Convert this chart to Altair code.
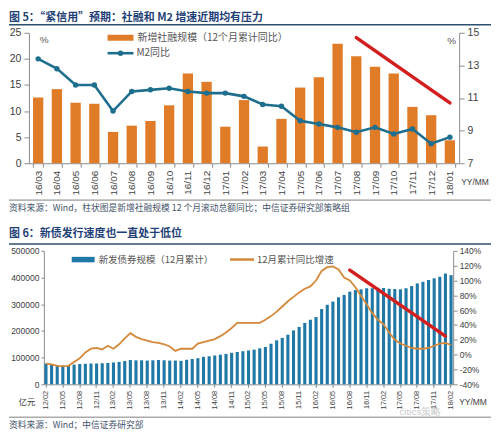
import altair as alt
import pandas as pd

# ---------------- Figure 5 data ----------------
months5 = ["16/03", "16/04", "16/05", "16/06", "16/07", "16/08", "16/09", "16/10",
           "16/11", "16/12", "17/01", "17/02", "17/03", "17/04", "17/05", "17/06",
           "17/07", "17/08", "17/09", "17/10", "17/11", "17/12", "18/01"]
tsf_growth = [12.6, 14.2, 11.6, 11.4, 6.0, 7.2, 8.1, 11.1, 17.2, 15.6, 7.0, 12.1,
              3.2, 8.5, 14.5, 16.5, 22.9, 20.5, 18.5, 17.2, 10.8, 9.2, 4.4]
m2_growth = [13.4, 12.8, 11.8, 11.8, 10.2, 11.4, 11.5, 11.6, 11.4, 11.3, 11.3, 11.1,
             10.6, 10.5, 9.6, 9.4, 9.2, 8.9, 9.2, 8.8, 9.1, 8.2, 8.6]
trend5_months = ["17/08", "18/01"]
trend5_values = [14.7, 10.7]

# ---------------- Figure 6 data ----------------
months6 = [f"{y}/{m:02d}" for y in range(12, 19) for m in range(1, 13)][1:74]  # 12/02 .. 18/02
bond_issuance = [
    78000, 76000, 72000, 70000, 70000, 74000, 76000, 77000, 78000, 78000, 79000, 80000,
    82000, 84000, 87000, 91000, 90000, 90000, 89000, 90000, 91000, 90000, 89000, 89000,
    88000, 92000, 95000, 98000, 103000, 105000, 108000, 111000, 114000, 118000, 121000, 124000,
    127000, 130000, 135000, 140000, 152000, 165000, 174000, 186000, 202000, 215000, 230000, 242000,
    252000, 282000, 298000, 310000, 326000, 335000, 347000, 353000, 356000, 360000, 360000, 362000,
    361000, 358000, 357000, 356000, 360000, 368000, 378000, 384000, 391000, 397000, 403000, 415000,
    409000]
bond_growth = [
    -12, -13, -15, -15.5, -15, -10, -5, 3, 8, 9, 7, 12,
    8, 14, 22, 29, 24, 21, 19, 17, 16, 14, 11, 5,
    8, 8, 8, 15, 17, 19, 21, 25, 30, 36, 43, 43,
    43, 43, 43, 47, 52, 58, 65, 72, 78, 84, 89, 92,
    100, 113, 118, 119, 115, 104, 100, 91, 79, 68, 56, 47,
    41, 30, 20, 15, 12, 9, 8, 8, 9, 12, 15, 16,
    13]
trend6_months = ["16/08", "18/01"]
trend6_values = [114, 25]

# ---------------- style ----------------
CJK = "Noto Sans CJK SC"
NUM = "Liberation Sans"
AX = "#8C8C8C"
LAB = "#404040"
ORANGE5 = "#E07B28"
M2C = "#1E6F8E"
BLUE6 = "#1F78A6"
ORANGE6 = "#D4883A"
RED = "#D21E1E"
TITLEC = "#1F3F77"
FOOTC = "#44546A"


def label(text, x, y, size=9.0, color=LAB, font=CJK, weight="normal", align="left", opacity=1.0):
    return alt.Chart(pd.DataFrame({"t": [text]})).mark_text(
        align=align, baseline="middle", fontSize=size, color=color, font=font,
        fontWeight=weight, opacity=opacity
    ).encode(x=alt.value(x), y=alt.value(y), text="t:N")


def hline(x1, x2, y, color, width, opacity=1.0):
    return alt.Chart(pd.DataFrame({"a": [0]})).mark_rule(
        color=color, strokeWidth=width, opacity=opacity).encode(
        x=alt.value(x1), x2=alt.value(x2), y=alt.value(y))


# ================= Figure 5 =================
W5, H5 = 432, 131
df5 = pd.DataFrame({"month": months5, "tsf": tsf_growth, "m2": m2_growth})
tr5 = pd.DataFrame({"month": trend5_months, "m2": trend5_values})

x5 = alt.X("month:N", sort=months5, title=None,
           scale=alt.Scale(paddingInner=0.45, paddingOuter=0.22),
           axis=alt.Axis(labelAngle=270, labelFontSize=10, labelColor=LAB, labelFont=NUM,
                         tickBand="extent", tickSize=4, tickColor=AX, domainColor=AX,
                         labelPadding=3))

bars5 = alt.Chart(df5).mark_bar(color=ORANGE5).encode(
    x=x5,
    y=alt.Y("tsf:Q", title=None, scale=alt.Scale(domain=[0, 25], nice=False),
            axis=alt.Axis(values=[0, 5, 10, 15, 20, 25], labelFontSize=10.5, labelColor=LAB,
                          labelFont=NUM, tickSize=5, tickColor=AX, domainColor=AX,
                          labelPadding=3, grid=False)))

y5r = alt.Y("m2:Q", title=None, scale=alt.Scale(domain=[7, 15], nice=False),
            axis=alt.Axis(orient="right", values=[7, 9, 11, 13, 15], labelFontSize=10.5,
                          labelColor=LAB, labelFont=NUM, tickSize=5, tickColor=AX,
                          domainColor=AX, labelPadding=3, grid=False))
line5 = alt.Chart(df5).mark_line(color=M2C, strokeWidth=2.6).encode(x=x5, y=y5r)
pts5 = alt.Chart(df5).mark_point(filled=True, size=30, color=M2C, opacity=1).encode(x=x5, y=y5r)
red5 = alt.Chart(tr5).mark_line(color=RED, strokeWidth=3.5, strokeCap="round").encode(x=x5, y=y5r)

decor5 = [
    hline(-20, -19, -23.5, "#FFFFFF", 1, opacity=0),
    label("图 5：“紧信用”预期：社融和 M2 增速近期均有压力", -20, -15, size=11, color=TITLEC, weight="bold"),
    hline(-20, 464, -8, "#2F4F6F", 1.5),
    alt.Chart(pd.DataFrame({"a": [0]})).mark_rect(color=ORANGE5).encode(
        x=alt.value(79), x2=alt.value(105), y=alt.value(2), y2=alt.value(8)),
    label("新增社融规模（12个月累计同比）", 109, 5, size=10, color="#555555"),
    hline(79, 105, 20.5, M2C, 2.6),
    alt.Chart(pd.DataFrame({"a": [0]})).mark_point(filled=True, size=30, color=M2C, opacity=1).encode(
        x=alt.value(92), y=alt.value(20.5)),
    label("M2同比", 108, 20.5, size=10, color="#555555"),
    label("%", 11, 7, size=10, color="#555555", font=NUM),
    label("%", 420, 8, size=10, color="#555555", font=NUM),
    label("YY/MM", 434, H5 + 19, size=8.5, color=LAB, font=NUM),
    hline(-20, 464, 168, "#7F7F7F", 1),
    label("资料来源：Wind，柱状图是新增社融规模 12 个月滚动总额同比；中信证券研究部策略组",
          -20, 176, size=8.8, color=FOOTC),
]

fig5 = alt.layer(
    bars5,
    alt.layer(line5, pts5, red5),
    *decor5
).resolve_scale(y="independent").properties(width=W5, height=H5)

# ================= Figure 6 =================
W6, H6 = 426, 134
df6 = pd.DataFrame({"month": months6, "bonds": bond_issuance, "growth": bond_growth})
tr6 = pd.DataFrame({"month": trend6_months, "growth": trend6_values})

x6 = alt.X("month:N", sort=months6, title=None,
           scale=alt.Scale(range=[15, W6], paddingInner=0.45, paddingOuter=0.1),
           axis=alt.Axis(values=months6[::3], labelAngle=270, labelFontSize=7.5, labelColor=LAB,
                         labelFont=NUM, tickSize=3, tickColor=AX, domainColor=AX, labelPadding=3))

bars6 = alt.Chart(df6).mark_bar(color=BLUE6).encode(
    x=x6,
    y=alt.Y("bonds:Q", title=None, scale=alt.Scale(domain=[0, 500000], nice=False),
            axis=alt.Axis(offset=-15, values=[0, 100000, 200000, 300000, 400000, 500000],
                          format="d", labelFontSize=8.5, labelColor=LAB, labelFont=NUM,
                          tickSize=3, tickColor=AX, domainColor=AX, labelPadding=2, grid=False)))

y6r = alt.Y("growth:Q", title=None, scale=alt.Scale(domain=[-40, 140], nice=False),
            axis=alt.Axis(orient="right", values=[-40, -20, 0, 20, 40, 60, 80, 100, 120, 140],
                          labelExpr="datum.value + '%'", labelFontSize=8.5, labelColor=LAB,
                          labelFont=NUM, tickSize=4, tickColor=AX, domainColor=AX,
                          labelPadding=2, grid=False))
line6 = alt.Chart(df6).mark_line(color=ORANGE6, strokeWidth=1.8).encode(x=x6, y=y6r)
red6 = alt.Chart(tr6).mark_line(color=RED, strokeWidth=3.5, strokeCap="round").encode(x=x6, y=y6r)

decor6 = [
    label("图 6：新债发行速度也一直处于低位", -20, -17, size=11, color=TITLEC, weight="bold"),
    hline(-20, 464, -7, "#2F4F6F", 1.5),
    alt.Chart(pd.DataFrame({"a": [0]})).mark_rect(color=BLUE6).encode(
        x=alt.value(43), x2=alt.value(66), y=alt.value(6), y2=alt.value(11.5)),
    label("新发债券规模（12月累计）", 70, 8.7, size=9.5, color="#555555"),
    hline(202, 226, 8.7, ORANGE6, 2.5),
    label("12月累计同比增速", 229, 8.7, size=9.5, color="#555555"),
    label("亿元", -2, H6 + 18, size=8.5, color=LAB, align="center"),
    label("citics策略", 372, H6 + 28, size=10, color="#BBBBBB", font=NUM, opacity=0.8),
    label("YY/MM", 432, H6 + 18, size=8.5, color=LAB, font=NUM),
    hline(-20, 464, 167, "#7F7F7F", 1),
    label("资料来源：Wind；中信证券研究部", -20, 175, size=8.8, color=FOOTC),
]

fig6 = alt.layer(
    bars6,
    alt.layer(line6, red6),
    *decor6
).resolve_scale(y="independent").properties(width=W6, height=H6)

chart = alt.vconcat(fig5, fig6, spacing=15).properties(
    padding=0, background="white"
).configure_view(stroke=None).configure_axis(grid=False)

chart.save("out.html", embed_options={"renderer": "svg", "actions": False})
